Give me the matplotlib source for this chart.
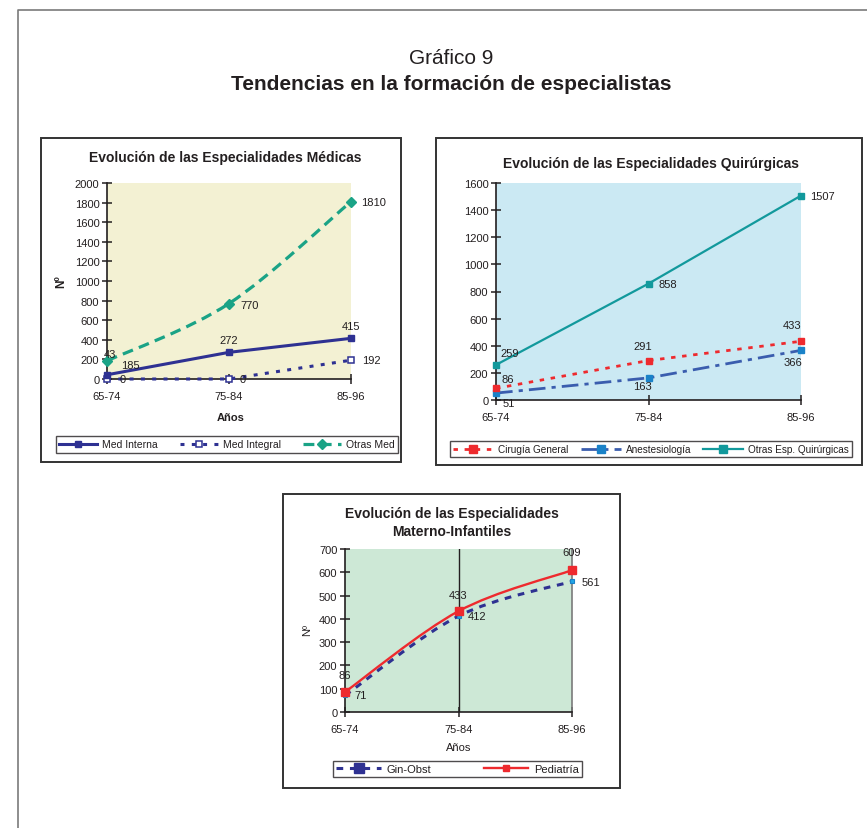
import numpy as np
import matplotlib
matplotlib.use("Agg")
import matplotlib.pyplot as plt
from matplotlib.patches import Rectangle, PathPatch
from matplotlib.path import Path
from matplotlib.lines import Line2D

plt.rcParams['font.family'] = ['Liberation Sans', 'DejaVu Sans']
TXT = '#231f20'

# ---- data ----
periods = ['65-74', '75-84', '85-96']

med_interna = [43, 272, 415]
med_integral = [0, 0, 192]
otras_med = [185, 770, 1810]

cirugia_general = [86, 291, 433]
anestesiologia = [51, 163, 366]
otras_quirurgicas = [259, 858, 1507]

gin_obst = [71, 412, 561]
pediatria = [86, 433, 609]

# ---- figure geometry (pixels) ----
W, H = 867, 829
fig = plt.figure(figsize=(W / 100, H / 100), dpi=100)


def fbox(x0, y0, x1, y1):
    return [x0 / W, 1 - y1 / H, (x1 - x0) / W, (y1 - y0) / H]


def frame(x0, y0, x1, y1, color='#333333', lw=1.4):
    fig.patches.append(Rectangle((x0 / W, 1 - y1 / H), (x1 - x0) / W, (y1 - y0) / H,
                                 transform=fig.transFigure, fill=False,
                                 ec=color, lw=lw, zorder=0))


def ftext(x, y, s, **kw):
    fig.text(x / W, 1 - y / H, s, color=TXT, **kw)


# outer page frame (left and top edges visible)
fig.add_artist(Line2D([18 / W, 18 / W, 1.0], [0.0, 1 - 11 / H, 1 - 11 / H],
                      transform=fig.transFigure, color='#7a7a7a', lw=1.2))

ftext(451, 59, 'Gráfico 9', ha='center', va='center', fontsize=15)
ftext(451, 84, 'Tendencias en la formación de especialistas', ha='center',
      va='center', fontsize=15, fontweight='bold')


def smooth_path(xs, ys):
    """Excel-style smoothed line as cubic Bezier segments."""
    P = np.column_stack([xs, ys]).astype(float)
    verts = [P[0]]
    codes = [Path.MOVETO]
    n = len(P)
    for i in range(n - 1):
        p0 = P[i - 1] if i > 0 else P[i]
        p1, p2 = P[i], P[i + 1]
        p3 = P[i + 2] if i + 2 < n else P[i + 1]
        c1 = p1 + (p2 - p0) / 6
        c2 = p2 - (p3 - p1) / 6
        verts += [c1, c2, p2]
        codes += [Path.CURVE4] * 3
    return Path(verts, codes)


def series(ax, ys, color, lw, ls, marker, ms, mfc=None, mec=None, mew=1.0,
           smooth=False, z=3):
    xs = np.arange(len(ys))
    if smooth:
        ax.add_patch(PathPatch(smooth_path(xs, ys), fill=False, ec=color, lw=lw,
                               ls=ls, capstyle='butt', clip_on=False, zorder=z))
    else:
        ax.plot(xs, ys, color=color, lw=lw, ls=ls, solid_capstyle='butt',
                dash_capstyle='butt', clip_on=False, zorder=z)
    ax.plot(xs, ys, ls='none', marker=marker, ms=ms,
            mfc=mfc if mfc is not None else color,
            mec=mec if mec is not None else color, mew=mew,
            clip_on=False, zorder=z + 1)


def labels(ax, ys, offsets, ha='center', fs=8):
    if isinstance(ha, str):
        ha = [ha] * len(ys)
    for i, (v, (dx, dy), h) in enumerate(zip(ys, offsets, ha)):
        ax.annotate(str(v), (i, v), xytext=(dx * 0.72, dy * 0.72),
                    textcoords='offset points', ha=h, va='center',
                    fontsize=fs, color=TXT, annotation_clip=False, zorder=6)


def style_axes(ax, ymax, ystep, bg, fs=8):
    ax.set_facecolor(bg)
    ax.set_xlim(0, len(periods) - 1)
    ax.set_ylim(0, ymax)
    ax.set_xticks(range(len(periods)))
    ax.set_xticklabels(periods)
    ax.set_yticks(np.arange(0, ymax + 1, ystep))
    for s in ('top', 'right'):
        ax.spines[s].set_visible(False)
    for s in ('left', 'bottom'):
        ax.spines[s].set_color('#231f20')
        ax.spines[s].set_linewidth(1.2)
    ax.tick_params(axis='both', direction='inout', length=7, width=1.1,
                   colors='#231f20', labelsize=fs, labelcolor=TXT)
    ax.tick_params(axis='x', pad=5)
    ax.tick_params(axis='y', pad=2)


def legend(handles, names, box, fs=7.5, hl=3.6):
    x0, y0, x1, y1 = box
    leg = fig.legend(handles, names, loc='center', ncol=len(names), mode='expand',
                     bbox_to_anchor=fbox(x0, y0, x1, y1), bbox_transform=fig.transFigure,
                     fontsize=fs, frameon=True, fancybox=False, handlelength=hl,
                     handletextpad=0.5, borderpad=0.3, borderaxespad=0.0,
                     columnspacing=1.0)
    leg.get_frame().set_edgecolor('#231f20')
    leg.get_frame().set_linewidth(1.0)
    for t in leg.get_texts():
        t.set_color(TXT)
    return leg


# ================= Chart 1: Especialidades Médicas =================
NAVY = '#2e3192'
GREEN = '#1aa386'
frame(41, 139, 401, 463)
ax1 = fig.add_axes(fbox(107, 184, 351, 380))
style_axes(ax1, 2000, 200, '#f3f1d3')
ftext(225, 158, 'Evolución de las Especialidades Médicas', ha='center', va='center',
      fontsize=10, fontweight='bold')
ftext(61, 282, 'Nº', ha='center', va='center', rotation=90, fontsize=8.5,
      fontweight='bold')
ftext(231, 418, 'Años', ha='center', va='center', fontsize=8, fontweight='bold')

ls_integral = (0, (1.3, 2.4))
ls_otras_med = (0, (3.4, 2.0))
series(ax1, otras_med, GREEN, 2.3, ls_otras_med, 'D', 5.2, smooth=True)
series(ax1, med_integral, NAVY, 2.2, ls_integral, 's', 4.5, mfc='white', mew=1.1)
series(ax1, med_interna, NAVY, 2.2, '-', 's', 5.0)
labels(ax1, med_interna, [(3, 21), (0, 12), (0, 12)])
labels(ax1, med_integral, [(13, 0), (11, 0), (11, 0)], ha='left')
labels(ax1, otras_med, [(14, -4), (11, -1), (10, 0)], ha='left')

h1 = [Line2D([], [], color=NAVY, lw=2.2, marker='s', ms=5.0),
      Line2D([], [], color=NAVY, lw=2.2, ls=ls_integral, marker='s', ms=4.5,
             mfc='white', mew=1.1),
      Line2D([], [], color=GREEN, lw=2.3, ls=ls_otras_med, marker='D', ms=5.2)]
legend(h1, ['Med Interna', 'Med Integral', 'Otras Med'], (56, 434, 398, 457))

# ================= Chart 2: Especialidades Quirúrgicas =================
RED = '#ee2a2e'
BLUE_L = '#3a5dae'
BLUE_M = '#1a82c8'
TEAL = '#12999c'
frame(436, 139, 862, 466)
ax2 = fig.add_axes(fbox(496, 184, 801, 401))
style_axes(ax2, 1600, 200, '#cbe9f3')
ftext(651, 164, 'Evolución de las Especialidades Quirúrgicas', ha='center',
      va='center', fontsize=10, fontweight='bold')

ls_cir = (0, (1.6, 2.4))
ls_anes = (0, (6.0, 2.2, 1.5, 2.2))
series(ax2, otras_quirurgicas, TEAL, 1.6, '-', 's', 4.4)
series(ax2, anestesiologia, BLUE_L, 2.0, ls_anes, 's', 4.6, mfc=BLUE_M, mec=BLUE_M)
series(ax2, cirugia_general, RED, 2.0, ls_cir, 's', 4.6)
labels(ax2, cirugia_general, [(12, 9), (-6, 15), (-9, 16)])
labels(ax2, anestesiologia, [(13, -10), (-6, -8), (-8, -12)])
labels(ax2, otras_quirurgicas, [(14, 12), (10, 0), (9, 0)],
       ha=['center', 'left', 'left'])

h2 = [Line2D([], [], color=RED, lw=2.0, ls=ls_cir, marker='s', ms=6.0),
      Line2D([], [], color=BLUE_L, lw=2.0, ls=ls_anes, marker='s', ms=6.0,
             mfc=BLUE_M, mec=BLUE_M),
      Line2D([], [], color=TEAL, lw=1.6, marker='s', ms=6.0)]
legend(h2, ['Cirugía General', 'Anestesiología', 'Otras Esp. Quirúrgicas'],
       (450, 438, 852, 462), fs=7.2, hl=4.0)

# ================= Chart 3: Especialidades Materno-Infantiles =================
frame(283, 495, 620, 789)
ax3 = fig.add_axes(fbox(345, 550, 572, 713))
style_axes(ax3, 700, 100, '#cde8d6')
ax3.spines['right'].set_visible(True)
ax3.spines['right'].set_color('#7a7a7a')
ax3.spines['right'].set_linewidth(1.2)
ax3.axvline(1, color='#231f20', lw=1.0, zorder=1)
ftext(452, 514, 'Evolución de las Especialidades', ha='center', va='center',
      fontsize=10, fontweight='bold')
ftext(452, 532, 'Materno-Infantiles', ha='center', va='center',
      fontsize=10, fontweight='bold')
ftext(307, 630, 'Nº', ha='center', va='center', rotation=90, fontsize=8)
ftext(459, 748, 'Años', ha='center', va='center', fontsize=8)

ls_gin = (0, (2.2, 2.2))
series(ax3, gin_obst, NAVY, 2.2, ls_gin, 's', 3.2, mfc='#22a7e6', mec=BLUE_M,
       mew=0.8, smooth=True)
series(ax3, pediatria, RED, 1.7, '-', 's', 5.6, smooth=True)
labels(ax3, pediatria, [(0, 17), (0, 16), (0, 18)])
labels(ax3, gin_obst, [(9, 0), (9, 0), (10, -1)], ha='left')

h3 = [Line2D([], [], color=NAVY, lw=2.2, ls=ls_gin, marker='s', ms=6.5),
      Line2D([], [], color=RED, lw=1.7, marker='s', ms=4.0)]
legend(h3, ['Gin-Obst', 'Pediatría'], (333, 761, 582, 779), fs=8, hl=4.0)

fig.savefig('out.png', dpi=100, facecolor='white')
